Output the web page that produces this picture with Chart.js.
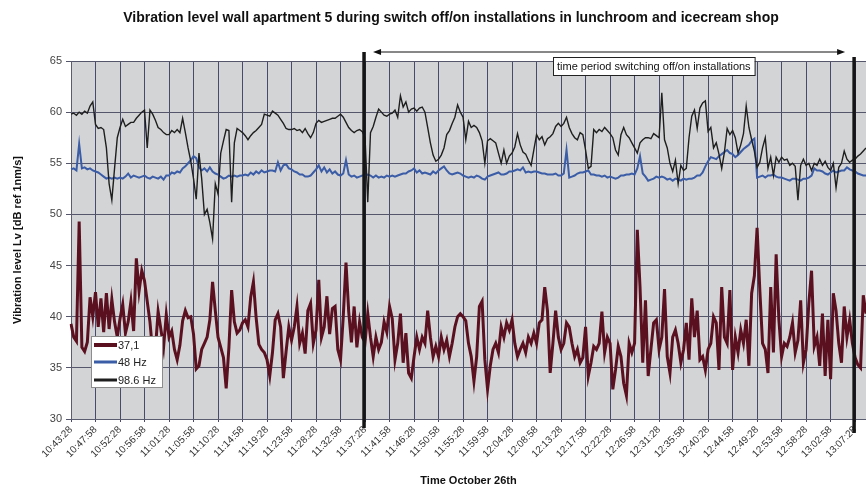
<!DOCTYPE html>
<html>
<head>
<meta charset="utf-8">
<script src="https://cdn.jsdelivr.net/npm/chart.js@4.4.1/dist/chart.umd.min.js"></script>
<style>
  html, body { margin: 0; padding: 0; background: #fff; }
  #wrap { width: 866px; height: 489px; }
</style>
</head>
<body>
<div id="wrap"><canvas id="vibChart"></canvas></div>
<script>
const FONT = '"Liberation Sans", Arial, sans-serif';

// samples every 30 s starting at 10:43:28
const startTime = '10:43:28';
const stepSeconds = 30;

const tickLabels = [
  '10:43:28', '10:47:58', '10:52:28', '10:56:58', '11:01:28', '11:05:58', '11:10:28', '11:14:58',
  '11:19:28', '11:23:58', '11:28:28', '11:32:58', '11:37:28', '11:41:58', '11:46:28', '11:50:58',
  '11:55:28', '11:59:58', '12:04:28', '12:08:58', '12:13:28', '12:17:58', '12:22:28', '12:26:58',
  '12:31:28', '12:35:58', '12:40:28', '12:44:58', '12:49:28', '12:53:58', '12:58:28', '13:02:58',
  '13:07:28'
];
const samplesPerTick = 9;

const lv371 = [
  39.3, 38.0, 37.6, 49.3, 37.0, 36.6, 37.5, 41.9, 40.0,
  42.4, 39.0, 41.8, 38.5, 42.3, 38.8, 41.7, 39.5, 38.0,
  39.8, 41.2, 38.4, 39.5, 41.5, 38.6, 45.7, 42.5, 44.5,
  43.5, 41.5, 39.5, 36.5, 36.8, 40.5, 38.8, 37.0, 40.2,
  38.0, 38.6, 36.8, 35.8, 37.2, 39.6, 40.6, 39.9, 40.0,
  38.3, 34.9, 35.2, 36.8, 37.4, 38.0, 39.7, 43.4, 40.6,
  38.0, 37.0, 36.0, 33.0, 37.0, 42.6, 39.5, 38.4, 38.7,
  39.4, 39.7, 39.0, 41.9, 43.4, 39.9, 37.3, 36.8, 36.5,
  35.8, 34.2, 36.5, 39.7, 40.3, 39.0, 34.0, 36.6, 39.0,
  37.7, 39.0, 41.0, 37.4, 38.4, 36.4, 40.6, 41.3, 37.4,
  38.7, 43.6, 38.0, 39.0, 42.0, 38.3, 40.8, 41.0, 36.8,
  35.8, 40.0, 45.3, 40.5, 37.5, 41.0, 37.0, 39.5, 38.0,
  37.5, 40.3, 38.0, 36.1, 38.0, 36.8, 37.5, 39.5, 38.5,
  41.0, 39.8, 35.8, 37.4, 40.3, 35.5, 38.4, 34.5, 34.0,
  36.1, 38.0, 36.8, 38.0, 37.4, 40.6, 38.0, 36.1, 37.1,
  36.1, 38.0, 36.8, 37.7, 36.1, 37.4, 39.0, 40.0, 40.3,
  40.0, 39.6, 37.4, 36.1, 33.7, 36.1, 41.0, 41.5, 35.8,
  32.9, 35.2, 36.8, 37.4, 36.5, 39.0, 38.0, 39.4, 38.7,
  39.7, 37.4, 36.1, 36.8, 37.4, 36.5, 38.0, 37.4, 38.4,
  37.4, 39.4, 39.7, 42.9, 40.6, 34.5, 37.4, 40.6, 38.0,
  36.8, 37.4, 39.4, 39.0, 37.4, 36.1, 36.8, 35.5, 36.0,
  39.0, 34.2, 35.5, 37.1, 36.8, 37.4, 40.5, 36.5, 38.0,
  37.4, 32.9, 34.8, 37.1, 36.1, 33.5, 32.3, 37.4, 36.5,
  37.4, 48.5, 42.9, 35.5, 41.6, 34.2, 36.8, 39.4, 39.7,
  36.8, 38.0, 42.7, 36.1, 34.5, 38.0, 38.7, 37.4, 35.5,
  36.8, 39.4, 35.8, 41.8, 38.0, 40.6, 35.8, 36.1, 34.8,
  36.8, 37.4, 40.0, 39.4, 34.8, 42.9, 38.0, 37.4, 42.6,
  34.8, 38.0, 36.5, 38.7, 37.4, 39.7, 35.2, 42.3, 44.0,
  48.7, 42.6, 37.4, 36.8, 34.5, 42.9, 36.5, 46.1, 39.7,
  36.1, 37.4, 37.1, 38.0, 39.4, 36.5, 37.7, 41.6, 35.5,
  36.8, 41.3, 44.5, 37.1, 38.0, 35.2, 40.3, 34.2, 39.7,
  33.9, 42.3, 40.6, 37.4, 35.5, 41.0, 38.0, 39.7, 37.4,
  36.0, 35.3, 35.0, 42.1, 40.3
];

const lv48 = [
  54.4, 54.5, 54.3, 56.9, 54.5, 54.6, 54.4, 54.5, 54.3,
  54.2, 54.1, 53.9, 53.7, 53.5, 53.6, 53.5, 53.6, 53.5,
  53.6, 53.5, 53.7, 54.0, 53.6, 53.8, 53.7, 53.6, 53.7,
  53.8, 53.6, 53.5, 53.7, 53.6, 53.5, 53.7, 53.4, 53.8,
  53.8, 54.1, 54.0, 54.2, 54.1, 54.5, 54.7, 55.0, 55.3,
  55.7, 55.5, 54.6, 54.3, 54.5, 54.2, 54.6, 54.2, 54.0,
  53.9, 53.7, 53.5, 53.6, 53.8, 53.7, 53.8, 53.7, 53.8,
  53.8, 53.9, 53.8, 54.1, 53.9, 54.2, 54.0, 54.3, 54.1,
  54.2, 54.3, 54.3, 54.2, 55.1, 54.3, 54.8, 54.9, 54.5,
  54.4, 54.2, 54.1, 53.9, 53.9, 53.7, 53.7, 53.8, 54.1,
  54.4, 54.8, 54.2, 54.6, 54.1, 54.4, 54.0, 54.2, 53.9,
  53.8, 54.0, 55.3, 53.9, 53.7, 53.8, 53.6, 53.7, 53.8,
  53.8, 53.9, 53.8, 53.6, 53.8, 53.6, 53.7, 53.6, 53.8,
  53.7, 53.8, 53.7, 53.8, 53.9, 54.0, 54.0, 54.2, 54.3,
  54.5, 54.1, 54.3, 54.0, 54.1, 54.0, 53.9, 54.2, 54.0,
  54.3, 54.5, 54.7, 54.3, 54.0, 53.9, 54.0, 54.1, 54.0,
  53.8, 53.7, 53.6, 53.7, 53.6, 53.8, 53.7, 53.5, 53.4,
  53.7, 53.8, 53.9, 54.0, 54.1, 53.9, 53.9, 54.0, 54.2,
  54.2, 54.3, 54.4, 54.3, 54.6, 54.1, 54.2, 54.1, 54.2,
  54.2, 54.1, 54.0, 54.0, 53.9, 53.9, 53.9, 54.0, 53.8,
  53.8, 54.0, 56.3, 53.6, 53.7, 53.8, 54.0, 54.1, 54.1,
  54.2, 54.3, 53.9, 53.9, 53.8, 53.8, 53.7, 53.8, 53.6,
  53.7, 53.6, 53.5, 53.6, 53.8, 53.8, 53.9, 53.9, 54.0,
  53.9, 54.5, 55.7, 54.0, 53.7, 53.3, 53.4, 53.5, 53.7,
  53.6, 53.7, 53.6, 53.4, 53.5, 53.3, 53.5, 53.4, 53.3,
  53.5, 53.4, 53.5, 53.5, 53.6, 53.8, 53.8, 54.1, 54.7,
  55.2, 55.6, 55.5, 55.4, 55.7, 55.9, 56.1, 56.3, 56.0,
  55.9, 55.6, 55.8, 56.1, 56.4, 56.6, 56.8, 57.2, 57.4,
  53.6, 53.7, 53.8, 53.6, 53.8, 53.8, 53.9, 53.7, 53.6,
  53.6, 53.5, 53.4, 53.3, 53.5, 53.5, 53.4, 53.3, 53.5,
  53.5, 53.6, 53.8, 54.5, 54.3, 54.3, 54.2, 54.0, 53.9,
  54.1, 54.3, 54.1, 54.2, 54.3, 54.3, 54.6, 54.4, 54.3,
  54.2, 54.0, 53.9, 53.8, 53.8
];

const lv986 = [
  59.8, 59.9, 59.7, 60.0, 59.8, 60.1, 59.9, 60.6, 61.0,
  58.8, 58.4, 58.5, 58.3, 56.5, 53.0, 51.4, 54.5, 57.5,
  58.5, 59.3, 58.6, 58.8, 59.0, 59.0, 59.4, 59.7, 60.0,
  60.2, 56.5, 60.2, 59.8, 59.2, 58.5, 58.3, 58.0, 57.8,
  57.8, 58.2, 58.0, 58.3, 58.0, 59.4, 58.0, 56.5, 55.2,
  53.5, 51.5, 56.0, 53.5, 50.0, 50.5, 49.2, 47.6, 53.0,
  52.0, 56.0, 57.2, 58.3, 58.2, 51.2, 57.0, 58.4, 58.2,
  58.0, 57.7, 57.3, 57.7, 58.0, 58.2, 58.5, 58.8, 59.8,
  59.7, 59.6, 60.1, 59.9, 59.7, 59.3, 58.9, 58.4, 58.3,
  58.3, 58.4, 58.2, 58.3, 58.0, 58.4, 57.9, 57.5, 58.0,
  58.9, 59.2, 59.0, 59.1, 59.2, 59.3, 59.4, 59.4, 59.6,
  59.8, 59.5, 59.0, 58.5, 58.2, 58.0, 58.2, 58.3, 58.1,
  57.5, 51.2, 58.0, 58.6, 59.5, 60.3, 60.0, 59.7, 59.6,
  59.8, 59.9, 60.2, 59.5, 61.6, 60.5, 61.0, 60.0, 60.3,
  60.4, 60.1, 60.4, 60.5, 60.0, 58.5, 57.0, 55.8, 55.2,
  55.4, 55.8, 56.5, 57.8, 58.2, 58.9, 59.5, 60.7, 60.0,
  59.5, 57.3, 59.1, 58.5, 58.7, 58.5, 58.0, 57.2, 55.0,
  57.2, 57.4, 57.2, 57.0, 56.0, 55.0, 56.3, 55.0, 55.7,
  56.0, 56.6, 57.9, 56.8, 56.1, 55.9, 55.3, 54.8, 56.3,
  57.8, 57.3, 57.6, 56.8, 57.4, 57.6, 57.9, 58.6, 58.9,
  58.6, 58.9, 59.5, 58.5, 57.9, 57.5, 57.3, 58.0, 57.8,
  56.3, 54.5, 54.7, 58.3, 58.0, 58.3, 58.1, 58.5, 58.2,
  57.9, 57.5, 56.3, 55.8, 57.8, 58.5, 57.8, 57.5, 57.0,
  56.5, 56.0, 57.0, 57.3, 57.5, 57.5, 57.4, 57.9, 57.7,
  57.5, 61.9, 57.3, 56.5, 55.0, 54.2, 55.3, 53.0, 54.8,
  54.3, 54.5, 57.5, 59.6, 60.2, 58.4, 60.4, 60.9, 61.1,
  58.1, 58.5, 56.5, 57.0, 55.9, 54.5, 56.1, 58.4, 57.8,
  58.2, 57.5, 56.0, 56.8, 57.9, 60.6, 58.5, 57.3, 56.2,
  54.6, 55.1, 56.5, 57.5, 54.5, 55.6, 53.8, 55.6, 55.1,
  55.6, 55.3, 55.4, 54.8, 55.0, 54.7, 51.4, 54.8, 55.4,
  54.8, 55.0, 54.3, 55.0, 54.8, 55.4, 54.8, 55.2, 54.6,
  54.3, 55.0, 52.6, 54.6, 55.0, 56.2, 55.4, 55.1, 55.3,
  55.4, 55.7, 55.9, 56.2, 56.5
];

const seriesNames = ['37,1', '48 Hz', '98.6 Hz'];
const seriesColors = ['#5b1020', '#3b5ca6', '#1e1e1e'];
const periodStart = '11:37:28';
const periodEnd = '13:07:28';
const periodText = 'time period switching off/on installations';
const boxAnchor = '12:13:28';

// build sample time labels
function fmt(sec) {
  const h = Math.floor(sec / 3600), m = Math.floor(sec / 60) % 60, s = sec % 60;
  return h + ':' + String(m).padStart(2, '0') + ':' + String(s).padStart(2, '0');
}
const [h0, m0, s0] = startTime.split(':').map(Number);
const t0 = h0 * 3600 + m0 * 60 + s0;
const times = lv986.map((_, i) => fmt(t0 + i * stepSeconds));

const overlay = {
  id: 'overlay',
  beforeDraw(chart) {
    const { ctx, chartArea: a } = chart;
    ctx.save();
    ctx.fillStyle = '#d3d4d6';
    ctx.fillRect(a.left, a.top, a.right - a.left, a.bottom - a.top);
    ctx.restore();
  },
  afterDatasetsDraw(chart) {
    const { ctx } = chart;
    const xs = chart.scales.x;
    const x1 = xs.getPixelForValue(times.indexOf(periodStart)) - 1;
    const x2 = xs.getPixelForValue(times.indexOf(periodEnd)) - 1;

    ctx.save();
    // thick markers
    ctx.strokeStyle = '#151515';
    ctx.lineWidth = 3.5;
    ctx.beginPath();
    ctx.moveTo(x1, 52); ctx.lineTo(x1, 428);
    ctx.moveTo(x2, 57); ctx.lineTo(x2, 433);
    ctx.stroke();

    // double arrow
    const ay = 52, ax1 = x1 + 9, ax2 = x2 - 9;
    ctx.lineWidth = 1;
    ctx.strokeStyle = '#111';
    ctx.fillStyle = '#111';
    ctx.beginPath();
    ctx.moveTo(ax1 + 5, ay); ctx.lineTo(ax2 - 5, ay);
    ctx.stroke();
    ctx.beginPath();
    ctx.moveTo(ax1, ay); ctx.lineTo(ax1 + 8, ay - 3); ctx.lineTo(ax1 + 8, ay + 3); ctx.closePath();
    ctx.moveTo(ax2, ay); ctx.lineTo(ax2 - 8, ay - 3); ctx.lineTo(ax2 - 8, ay + 3); ctx.closePath();
    ctx.fill();

    // text box
    ctx.font = '11px ' + FONT;
    const tw = ctx.measureText(periodText).width;
    const bx = Math.round(xs.getPixelForValue(times.indexOf(boxAnchor))) - 8;
    ctx.fillStyle = '#fff';
    ctx.fillRect(bx, 57, tw + 8, 18);
    ctx.strokeStyle = '#222';
    ctx.strokeRect(bx + 0.5, 57.5, tw + 8, 18);
    ctx.fillStyle = '#111';
    ctx.textBaseline = 'middle';
    ctx.fillText(periodText, bx + 4, 66.5);

    // legend
    ctx.fillStyle = '#fff';
    ctx.fillRect(91, 336, 71, 51);
    ctx.strokeStyle = '#8c8c8c';
    ctx.strokeRect(91.5, 336.5, 71, 51);
    const ly = [345, 362, 380];
    const lw = [4, 3, 3];
    ctx.font = '11px ' + FONT;
    seriesNames.forEach((n, i) => {
      ctx.strokeStyle = seriesColors[i];
      ctx.lineWidth = lw[i];
      ctx.beginPath();
      ctx.moveTo(94, ly[i]); ctx.lineTo(117, ly[i]);
      ctx.stroke();
      ctx.fillStyle = '#222';
      ctx.fillText(n, 118, ly[i] + 0.5);
    });
    ctx.restore();
  },
  afterDraw(chart) {
    const { ctx } = chart;
    ctx.save();
    ctx.font = 'bold 14px ' + FONT;
    ctx.fillStyle = '#111';
    ctx.textAlign = 'center';
    ctx.textBaseline = 'middle';
    ctx.fillText('Vibration level wall apartment 5 during switch off/on installations in lunchroom and icecream shop', 451, 18);
    ctx.restore();
  }
};

const ctx = document.getElementById('vibChart').getContext('2d');
const chart = new Chart(ctx, {
  type: 'line',
  data: {
    labels: times,
    datasets: [
      { label: seriesNames[0], data: lv371, borderColor: seriesColors[0], borderWidth: 3, order: 0 },
      { label: seriesNames[1], data: lv48, borderColor: seriesColors[1], borderWidth: 2, order: 2 },
      { label: seriesNames[2], data: lv986, borderColor: seriesColors[2], borderWidth: 1.4, order: 1 }
    ]
  },
  options: {
    responsive: true,
    maintainAspectRatio: false,
    animation: false,
    elements: { point: { radius: 0 }, line: { tension: 0, fill: false } },
    layout: { padding: { top: 61, left: 0, right: 0, bottom: 0 } },
    plugins: {
      legend: { display: false },
      tooltip: { enabled: false },
      title: { display: false }
    },
    scales: {
      x: {
        offset: false,
        grid: { color: '#474a6c', lineWidth: 1, tickLength: 3 },
        border: { color: '#5a5c70' },
        ticks: {
          autoSkip: false,
          maxRotation: 45,
          minRotation: 45,
          padding: 2,
          color: '#333',
          font: { size: 10, family: FONT },
          callback: (v, i) => (i % samplesPerTick === 0 ? tickLabels[i / samplesPerTick] : null)
        },
        title: {
          display: true,
          text: 'Time October 26th',
          color: '#111',
          font: { size: 11, weight: 'bold', family: FONT },
          padding: { top: 0, bottom: 1 }
        },
        afterFit: s => { s.height = 70; }
      },
      y: {
        min: 30,
        max: 65,
        grid: { color: '#55566c', lineWidth: 1, tickLength: 5 },
        border: { color: '#5a5c70' },
        ticks: { stepSize: 5, padding: 4, color: '#444', font: { size: 11, family: FONT } },
        title: {
          display: true,
          text: 'Vibration level Lv [dB ref 1nm/s]',
          color: '#111',
          font: { size: 11, weight: 'bold', family: FONT },
          padding: { top: 11, bottom: 0 }
        },
        afterFit: s => { s.width = 71; }
      }
    }
  },
  plugins: [overlay]
});
</script>
</body>
</html>
